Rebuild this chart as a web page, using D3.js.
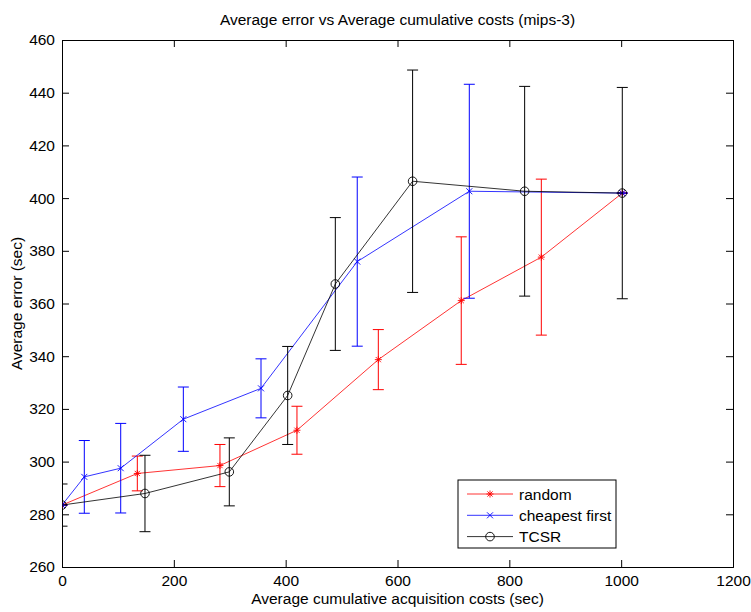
<!DOCTYPE html>
<html lang="en">
<head>
    <meta charset="UTF-8">
    <title>Average error vs Average cumulative costs (mips-3)</title>
    <script type="text/javascript" src="https://d3js.org/d3.v7.min.js"></script>
    <style>
        body { margin: 0; background: #fff; }
        text { font-family: "Liberation Sans", Arial, sans-serif; fill: #000; }
    </style>
</head>
<body>
<svg height="612" width="751"></svg>

<script>
    // data
    var xTicks = [0, 200, 400, 600, 800, 1000, 1200];
    var yTicks = [260, 280, 300, 320, 340, 360, 380, 400, 420, 440, 460];

    var randomCost = [0, 134.7, 282.5, 420.2, 565.7, 714, 857.2, 1002];
    var randomErr  = [283.5, 295.5, 298.5, 311.9, 338.7, 361.1, 377.6, 401.9];
    var randomSd   = [0, 6.6, 8, 9.1, 11.4, 24.2, 29.6, 0];

    var cheapCost = [0, 39.9, 105, 217, 355.9, 528, 728.4, 1002];
    var cheapErr  = [283.5, 294.2, 297.5, 316.1, 327.8, 375.9, 402.6, 401.9];
    var cheapSd   = [0, 13.8, 17, 12.2, 11.2, 32.1, 40.6, 0];

    var tcsrCost = [0, 148.4, 299.2, 403.6, 488.8, 627, 827.4, 1002];
    var tcsrErr  = [283.5, 287.9, 296.1, 325.1, 367.4, 406.4, 402.6, 401.9];
    var tcsrSd   = [8, 14.5, 12.9, 18.6, 25.2, 42.2, 39.8, 40.1];

    var marge = {top: 40, right: 18, bottom: 45, left: 62},
        svg = d3.select('svg'),
        width = +svg.attr('width'),
        height = +svg.attr('height'),
        fs = '15.5px';

    var x = d3.scaleLinear().domain([0, 1200]).range([marge.left, width - marge.right]);
    var y = d3.scaleLinear().domain([260, 460]).range([height - marge.bottom, marge.top]);

    var series = [
        {name: 'random', color: '#ff0000', marker: 'star', cost: randomCost, err: randomErr, sd: randomSd},
        {name: 'cheapest first', color: '#0000ff', marker: 'x', cost: cheapCost, err: cheapErr, sd: cheapSd},
        {name: 'TCSR', color: '#000000', marker: 'o', cost: tcsrCost, err: tcsrErr, sd: tcsrSd}
    ];

    svg.append('defs').append('clipPath').attr('id', 'plotclip')
        .append('rect')
        .attr('x', x(0)).attr('y', y(460))
        .attr('width', x(1200) - x(0)).attr('height', y(260) - y(460));

    // axes, ticks pointing inwards, box on all sides
    var tl = 7;
    svg.append('g').attr('transform', 'translate(0,' + y(260) + ')')
        .call(d3.axisBottom(x).tickValues(xTicks).tickSize(-tl).tickPadding(8).tickFormat(d3.format('d')));
    svg.append('g').attr('transform', 'translate(0,' + y(460) + ')')
        .call(d3.axisTop(x).tickValues(xTicks).tickSize(-tl).tickFormat(''));
    svg.append('g').attr('transform', 'translate(' + x(0) + ',0)')
        .call(d3.axisLeft(y).tickValues(yTicks).tickSize(-tl).tickPadding(7).tickFormat(d3.format('d')));
    svg.append('g').attr('transform', 'translate(' + x(1200) + ',0)')
        .call(d3.axisRight(y).tickValues(yTicks).tickSize(-tl).tickFormat(''));

    svg.selectAll('.domain').attr('stroke', '#000').attr('stroke-width', 1);
    svg.selectAll('.tick line').attr('stroke', '#000');
    svg.selectAll('.tick text').style('font-size', fs).attr('fill', '#000');

    var plot = svg.append('g').attr('clip-path', 'url(#plotclip)');

    function drawMarker(g, type, color) {
        if (type === 'o') {
            g.append('circle').attr('r', 4.3).attr('fill', 'none').attr('stroke', color).attr('stroke-width', 0.9);
        } else if (type === 'x') {
            g.append('path').attr('d', 'M-3,-3L3,3M-3,3L3,-3').attr('stroke', color).attr('stroke-width', 0.9);
        } else {
            g.append('path').attr('d', 'M-3.5,0L3.5,0M0,-3.5L0,3.5M-2.6,-2.6L2.6,2.6M-2.6,2.6L2.6,-2.6')
                .attr('stroke', color).attr('stroke-width', 0.9);
        }
    }

    var line = d3.line().x(function (d) { return x(d[0]); }).y(function (d) { return y(d[1]); });
    var cap = 5.5;

    series.forEach(function (s) {
        var pts = s.cost.map(function (c, i) { return [c, s.err[i], s.sd[i]]; });
        var g = plot.append('g');

        // error bars
        var eb = g.selectAll('.eb').data(pts).enter().append('g')
            .attr('stroke', s.color).attr('stroke-width', 1).attr('fill', 'none');
        eb.append('line')
            .attr('x1', function (d) { return x(d[0]); }).attr('x2', function (d) { return x(d[0]); })
            .attr('y1', function (d) { return y(d[1] - d[2]); }).attr('y2', function (d) { return y(d[1] + d[2]); });
        eb.append('line')
            .attr('x1', function (d) { return x(d[0]) - cap; }).attr('x2', function (d) { return x(d[0]) + cap; })
            .attr('y1', function (d) { return y(d[1] + d[2]); }).attr('y2', function (d) { return y(d[1] + d[2]); });
        eb.append('line')
            .attr('x1', function (d) { return x(d[0]) - cap; }).attr('x2', function (d) { return x(d[0]) + cap; })
            .attr('y1', function (d) { return y(d[1] - d[2]); }).attr('y2', function (d) { return y(d[1] - d[2]); });

        g.append('path').datum(pts).attr('d', line)
            .attr('fill', 'none').attr('stroke', s.color).attr('stroke-width', 0.8);

        g.selectAll('.mk').data(pts).enter().append('g')
            .attr('transform', function (d) { return 'translate(' + x(d[0]) + ',' + y(d[1]) + ')'; })
            .each(function () { drawMarker(d3.select(this), s.marker, s.color); });
    });

    // title and labels
    svg.append('text').attr('x', (x(0) + x(1200)) / 2).attr('y', 25)
        .attr('text-anchor', 'middle').style('font-size', fs)
        .text('Average error vs Average cumulative costs (mips-3)');
    svg.append('text').attr('x', (x(0) + x(1200)) / 2).attr('y', 604)
        .attr('text-anchor', 'middle').style('font-size', fs)
        .text('Average cumulative acquisition costs (sec)');
    svg.append('text')
        .attr('transform', 'translate(22,' + (y(260) + y(460)) / 2 + ') rotate(-90)')
        .attr('text-anchor', 'middle').style('font-size', fs)
        .text('Average error (sec)');

    // legend
    var lg = svg.append('g').attr('transform', 'translate(458,480)');
    lg.append('rect').attr('width', 158).attr('height', 68)
        .attr('fill', '#fff').attr('stroke', '#000');
    series.forEach(function (s, i) {
        var row = lg.append('g').attr('transform', 'translate(0,' + (14 + i * 21.3) + ')');
        row.append('line').attr('x1', 9).attr('x2', 55).attr('stroke', s.color).attr('stroke-width', 0.8);
        var m = row.append('g').attr('transform', 'translate(32,0)');
        drawMarker(m, s.marker, s.color);
        row.append('text').attr('x', 61).attr('y', 5.5).style('font-size', fs).text(s.name);
    });
</script>
</body>
</html>
